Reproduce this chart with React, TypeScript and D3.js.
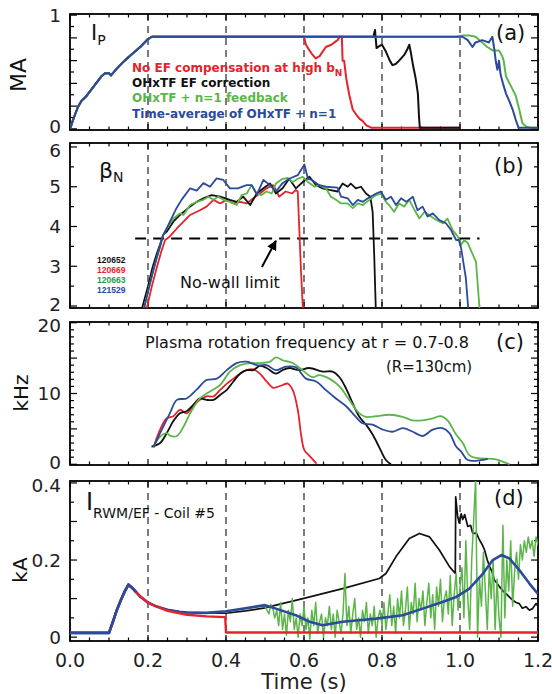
import React from "react";
import * as d3 from "d3";

type P = [number, number];

const X_TICK_VALUES = [0, 0.2, 0.4, 0.6, 0.8, 1.0, 1.2];
const DASH_TIMES = [0.2, 0.4, 0.6, 0.8, 1.0];

// ---------- Panel (a) Ip ----------
const IP_RAMP: P[] = [[0,0],[0.01,0.1],[0.02,0.19],[0.03,0.25],[0.04,0.28],[0.06,0.37],[0.08,0.46],[0.09,0.49],[0.1,0.49],[0.105,0.47],[0.12,0.53],[0.14,0.6],[0.16,0.66],[0.18,0.72],[0.2,0.79],[0.21,0.81]];
const IP_RED: P[] = [[0.6,0.81],[0.605,0.74],[0.614,0.69],[0.62,0.66],[0.63,0.62],[0.64,0.64],[0.656,0.72],[0.67,0.74],[0.686,0.78],[0.692,0.81],[0.697,0.81],[0.699,0.6],[0.703,0.6],[0.708,0.45],[0.716,0.3],[0.725,0.17],[0.735,0.12],[0.742,0.09],[0.75,0.07],[0.76,0.03],[0.772,0.01],[1.0,0.01]];
const IP_BLACK: P[] = [[0.778,0.81],[0.782,0.87],[0.786,0.71],[0.79,0.72],[0.8,0.74],[0.81,0.68],[0.82,0.6],[0.827,0.56],[0.835,0.57],[0.844,0.6],[0.857,0.65],[0.865,0.7],[0.87,0.74],[0.874,0.67],[0.88,0.55],[0.886,0.45],[0.892,0.31],[0.895,0.1],[0.897,0.01],[1.0,0.01]];
const IP_GREEN: P[] = [[0.99,0.81],[1.005,0.82],[1.024,0.82],[1.04,0.81],[1.057,0.76],[1.07,0.72],[1.084,0.69],[1.1,0.69],[1.108,0.64],[1.112,0.6],[1.118,0.46],[1.13,0.38],[1.143,0.29],[1.152,0.17],[1.16,0.05],[1.17,0.02],[1.18,0.01],[1.2,0.01]];
const IP_BLUE: P[] = [[1.0,0.81],[1.006,0.81],[1.02,0.78],[1.032,0.72],[1.04,0.76],[1.057,0.78],[1.074,0.76],[1.083,0.81],[1.088,0.7],[1.092,0.59],[1.096,0.52],[1.1,0.6],[1.104,0.48],[1.11,0.4],[1.118,0.31],[1.127,0.24],[1.135,0.17],[1.143,0.08],[1.15,0.01],[1.2,0.01]];

// ---------- Panel (b) beta_N ----------
const B_BLUE: P[] = [[0.19,1.95],[0.2,2.36],[0.211,2.8],[0.222,3.2],[0.231,3.5],[0.239,3.79],[0.248,3.95],[0.26,4.2],[0.273,4.46],[0.286,4.67],[0.308,4.96],[0.325,4.9],[0.342,5.09],[0.359,5.0],[0.376,5.21],[0.393,5.17],[0.41,4.96],[0.43,4.96],[0.453,5.04],[0.466,5.04],[0.479,4.8],[0.496,5.17],[0.513,5.04],[0.528,4.88],[0.545,5.09],[0.562,5.2],[0.584,5.29],[0.601,5.56],[0.61,5.2],[0.62,5.17],[0.639,5.04],[0.656,5.0],[0.686,4.98],[0.695,4.75],[0.712,4.71],[0.725,4.54],[0.738,4.67],[0.751,4.62],[0.764,4.71],[0.785,4.83],[0.797,4.88],[0.81,4.67],[0.823,4.75],[0.836,4.54],[0.849,4.71],[0.862,4.62],[0.879,4.75],[0.891,4.41],[0.904,4.5],[0.917,4.25],[0.93,4.33],[0.947,4.16],[0.964,4.08],[0.977,3.91],[0.99,3.66],[0.997,3.66],[1.003,3.45],[1.015,2.7],[1.021,1.95],[1.025,1.5]];
const B_GREEN: P[] = [[0.19,1.95],[0.2,2.36],[0.211,2.8],[0.222,3.2],[0.231,3.5],[0.239,3.79],[0.248,3.95],[0.265,4.2],[0.282,4.33],[0.291,4.29],[0.308,4.54],[0.325,4.62],[0.342,4.67],[0.355,4.75],[0.368,4.67],[0.38,4.75],[0.393,4.67],[0.41,4.62],[0.427,4.54],[0.44,4.79],[0.453,4.83],[0.466,5.04],[0.479,4.83],[0.491,4.79],[0.504,4.88],[0.517,4.83],[0.528,5.08],[0.545,5.2],[0.558,5.22],[0.571,5.12],[0.584,5.2],[0.597,5.25],[0.61,5.12],[0.627,5.0],[0.639,5.04],[0.656,4.96],[0.669,4.75],[0.682,4.67],[0.695,4.58],[0.712,4.58],[0.725,4.46],[0.738,4.58],[0.751,4.54],[0.768,4.67],[0.785,4.79],[0.797,4.83],[0.81,4.62],[0.818,4.54],[0.831,4.37],[0.844,4.58],[0.857,4.5],[0.87,4.67],[0.883,4.42],[0.896,4.2],[0.909,4.37],[0.926,4.25],[0.938,4.17],[0.956,4.08],[0.968,4.2],[0.981,3.91],[0.994,3.75],[1.003,3.54],[1.011,3.66],[1.02,3.58],[1.041,3.11],[1.05,1.95],[1.052,1.5]];
const B_BLACK: P[] = [[0.185,1.95],[0.2,2.5],[0.211,2.95],[0.222,3.3],[0.231,3.55],[0.239,3.79],[0.248,3.87],[0.265,4.12],[0.282,4.29],[0.308,4.5],[0.325,4.62],[0.342,4.71],[0.363,4.79],[0.385,4.75],[0.41,4.67],[0.427,4.62],[0.444,4.75],[0.462,4.54],[0.479,4.83],[0.496,4.96],[0.513,5.08],[0.528,4.83],[0.545,4.96],[0.562,5.2],[0.579,4.96],[0.597,5.12],[0.614,5.25],[0.631,5.04],[0.648,4.96],[0.665,4.92],[0.686,4.88],[0.699,5.08],[0.712,5.0],[0.72,5.08],[0.733,4.96],[0.746,5.0],[0.759,4.83],[0.77,4.75],[0.776,4.37],[0.78,3.29],[0.784,1.95],[0.786,1.5]];
const B_RED: P[] = [[0.197,1.95],[0.21,2.5],[0.222,2.95],[0.235,3.4],[0.244,3.66],[0.256,3.75],[0.274,3.95],[0.291,4.12],[0.308,4.29],[0.333,4.41],[0.35,4.5],[0.368,4.67],[0.385,4.58],[0.402,4.67],[0.419,4.58],[0.436,4.62],[0.453,4.58],[0.47,4.71],[0.487,4.83],[0.504,4.96],[0.521,5.04],[0.528,4.92],[0.536,4.75],[0.553,4.88],[0.57,4.83],[0.579,4.92],[0.584,4.88],[0.592,2.95],[0.597,1.95],[0.6,1.5]];
const NO_WALL_LIMIT = 3.7;
const NO_WALL_SPAN = [0.167, 1.05];
const SHOT_LABELS = ["120652", "120669", "120663", "121529"];

// ---------- Panel (c) rotation ----------
const C_BLACK: P[] = [[0.209,2.5],[0.231,3.0],[0.248,4.4],[0.265,6.1],[0.282,7.2],[0.299,7.5],[0.316,8.4],[0.333,9.3],[0.35,9.1],[0.368,9.1],[0.385,9.8],[0.402,10.5],[0.419,11.7],[0.436,12.8],[0.453,13.3],[0.47,13.3],[0.487,13.9],[0.504,13.6],[0.528,12.8],[0.545,13.3],[0.562,13.6],[0.588,13.3],[0.613,13.6],[0.648,13.1],[0.673,13.1],[0.691,12.3],[0.708,10.7],[0.725,8.6],[0.742,6.7],[0.759,5.6],[0.776,4.2],[0.793,2.4],[0.81,0.6],[0.823,0]];
const C_RED: P[] = [[0.214,2.4],[0.231,4.9],[0.248,6.5],[0.265,6.8],[0.282,7.7],[0.299,7.2],[0.316,8.2],[0.333,9.1],[0.35,9.6],[0.368,9.6],[0.385,10.5],[0.402,11.4],[0.419,12.1],[0.436,12.8],[0.453,13.3],[0.47,13.4],[0.487,12.8],[0.504,11.7],[0.521,10.8],[0.53,10.9],[0.545,11.2],[0.558,11.4],[0.571,10.5],[0.584,7.7],[0.593,4.0],[0.601,2.0],[0.614,1.2],[0.632,0.1]];
const C_GREEN: P[] = [[0.214,2.5],[0.231,3.9],[0.248,4.4],[0.258,4.0],[0.274,4.0],[0.291,5.3],[0.308,7.2],[0.333,9.3],[0.359,10.3],[0.385,11.2],[0.41,13.1],[0.436,14.0],[0.462,14.3],[0.487,14.3],[0.513,14.5],[0.528,15.1],[0.545,14.7],[0.571,14.3],[0.596,13.3],[0.622,12.3],[0.639,12.6],[0.665,12.1],[0.691,11.0],[0.716,9.1],[0.742,7.2],[0.759,6.7],[0.785,6.8],[0.818,7.0],[0.853,6.7],[0.879,6.2],[0.904,6.2],[0.93,6.5],[0.951,6.8],[0.968,6.2],[0.99,4.2],[1.007,3.0],[1.024,1.3],[1.041,0.9],[1.092,0.7],[1.118,0.2],[1.127,0]];
const C_BLUE: P[] = [[0.214,2.4],[0.231,4.4],[0.256,7.2],[0.274,9.1],[0.299,9.3],[0.324,10.5],[0.35,11.9],[0.376,12.1],[0.402,13.3],[0.427,14.3],[0.453,14.5],[0.479,14.0],[0.504,14.0],[0.528,13.3],[0.554,13.8],[0.579,13.7],[0.605,12.1],[0.631,11.7],[0.656,10.5],[0.682,9.3],[0.708,8.2],[0.733,6.7],[0.75,5.8],[0.776,5.6],[0.802,4.9],[0.827,4.6],[0.853,5.1],[0.879,4.6],[0.904,4.0],[0.93,4.9],[0.955,5.1],[0.973,4.4],[0.99,2.5],[1.003,1.8],[1.02,0.6],[1.071,0.78]];

// ---------- Panel (d) coil current ----------
const D_BASE: P[] = [[0,0.011],[0.1,0.011],[0.11,0.04],[0.12,0.07],[0.13,0.095],[0.14,0.118],[0.15,0.136],[0.16,0.127],[0.17,0.116],[0.18,0.105],[0.2,0.09],[0.22,0.08],[0.25,0.071],[0.28,0.066],[0.3,0.064],[0.35,0.063]];
const D_RED: P[] = [[0,0.011],[0.1,0.011],[0.11,0.04],[0.12,0.07],[0.13,0.095],[0.14,0.118],[0.15,0.137],[0.16,0.128],[0.17,0.117],[0.18,0.106],[0.2,0.089],[0.25,0.068],[0.3,0.058],[0.35,0.054],[0.398,0.052],[0.4,0.012],[1.2,0.012]];
const D_BLUE_TAIL: P[] = [[0.4,0.067],[0.45,0.075],[0.5,0.083],[0.528,0.074],[0.579,0.057],[0.614,0.04],[0.648,0.031],[0.699,0.04],[0.785,0.048],[0.853,0.057],[0.904,0.074],[0.955,0.091],[0.99,0.104],[1.024,0.126],[1.059,0.165],[1.084,0.2],[1.106,0.213],[1.127,0.204],[1.152,0.174],[1.178,0.139],[1.2,0.112]];
const D_BLACK_TAIL: P[] = [[0.4,0.062],[0.45,0.068],[0.5,0.076],[0.528,0.083],[0.597,0.1],[0.699,0.126],[0.793,0.152],[0.81,0.165],[0.836,0.209],[0.87,0.256],[0.896,0.269],[0.922,0.26],[0.947,0.226],[0.973,0.183],[0.988,0.165],[0.989,0.364],[0.994,0.313],[0.998,0.296],[1.003,0.32],[1.007,0.305],[1.012,0.318],[1.02,0.287],[1.027,0.29],[1.033,0.269],[1.042,0.27],[1.05,0.252],[1.057,0.24],[1.063,0.226],[1.07,0.2],[1.076,0.183],[1.082,0.17],[1.088,0.148],[1.095,0.14],[1.101,0.131],[1.11,0.12],[1.118,0.113],[1.127,0.104],[1.135,0.096],[1.144,0.09],[1.152,0.087],[1.16,0.075],[1.169,0.079],[1.178,0.07],[1.186,0.074],[1.195,0.087],[1.2,0.08]];
const D_GREEN_MID: P[] = [[0.4,0.066],[0.45,0.074],[0.49,0.08],[0.495,0.08]];
const D_GREEN_NOISE_START = 0.5;
const D_GREEN_NOISE_STEP = 0.005;
const D_GREEN_NOISE: number[] = [
  0.08,0.07,0.06,0.085,0.075,0.05,0.07,
  0.03,0.09,0.02,0.06,0.005,0.07,0.04,0.1,0.02,0.05,0.0,0.06,0.03,0.08,
  0.02,0.05,-0.005,0.07,0.03,0.09,0.01,0.04,0.06,0.0,0.05,0.03,0.08,0.02,0.06,0.0,0.07,0.04,0.01,0.06,
  0.165,0.03,0.08,0.01,0.06,0.1,0.02,0.05,0.0,0.07,0.04,0.09,0.01,0.06,0.03,0.08,0.0,0.05,0.07,0.03,
  0.09,0.02,0.06,0.11,0.03,0.08,0.01,0.1,0.05,0.12,0.03,0.07,0.13,0.02,0.09,0.06,0.14,0.04,0.1,0.07,
  0.12,0.03,0.09,0.14,0.05,0.11,0.02,0.13,0.08,0.15,0.04,0.1,0.12,0.06,0.16,0.03,0.11,0.165,0.07,0.13,
  0.18,0.05,0.25,0.1,0.02,0.2,0.3,0.41,0.0,0.15,0.08,0.22,0.12,0.02,0.18,0.1,0.2,0.02,0.15,0.05,
  0.0,0.29,0.05,0.2,0.12,0.25,0.08,0.17,0.22,0.15,0.24,0.2,0.25,0.22,0.26,0.23,0.25,0.21,0.26,0.24,0.25
];

const RED = "#e5232b";
const BLACK = "#111111";
const GREEN = "#5bb64a";
const BLUE = "#2b4a9b";
const FONT = "'DejaVu Sans', sans-serif";

const X0 = 70, X1 = 538;

type Panel = { top: number; bottom: number; y: d3.ScaleLinear<number, number> };

export default function App() {
  const x = d3.scaleLinear().domain([0, 1.2]).range([X0, X1]);

  const panels: Record<string, Panel> = {
    a: { top: 14, bottom: 130, y: d3.scaleLinear().domain([-0.01, 1.01]).range([130, 14]) },
    b: { top: 143, bottom: 308, y: d3.scaleLinear().domain([1.95, 6.1]).range([308, 143]) },
    c: { top: 322, bottom: 465, y: d3.scaleLinear().domain([-0.1, 20.1]).range([465, 322]) },
    d: { top: 481, bottom: 641, y: d3.scaleLinear().domain([-0.01, 0.405]).range([641, 481]) },
  };

  const lin = (y: d3.ScaleLinear<number, number>, pts: P[]) =>
    d3.line<P>().x(d => x(d[0])).y(d => y(d[1]))(pts) || "";
  const smooth = (y: d3.ScaleLinear<number, number>, pts: P[]) =>
    d3.line<P>().x(d => x(d[0])).y(d => y(d[1])).curve(d3.curveCatmullRom.alpha(0.5))(pts) || "";

  const xMinor = d3.range(0, 1.2001, 0.05);

  const frame = (key: string, p: Panel, yStep: number, majorEvery: number, labels: number[],
    fmt: (v: number) => string, dashes: boolean, dyTop: number, dyBottom: number) => {
    const [d0, d1] = p.y.domain();
    const start = Math.ceil((d0 - 1e-9) / yStep) * yStep;
    const yTicks = d3.range(start, d1 + 1e-9, yStep);
    const lo = Math.min(...labels), hi = Math.max(...labels);
    return (
      <g key={key}>
        {dashes && DASH_TIMES.map(t => (
          <line key={"dash" + t} x1={x(t)} x2={x(t)} y1={p.top} y2={p.bottom} stroke="#111" strokeWidth={1.1} strokeDasharray="7,5" />
        ))}
        {xMinor.map((t, i) => {
          const major = i % 4 === 0;
          const len = major ? 6 : 3.5;
          return (
            <g key={"xt" + i}>
              <line x1={x(t)} x2={x(t)} y1={p.bottom} y2={p.bottom - len} stroke="#000" strokeWidth={1.2} />
              <line x1={x(t)} x2={x(t)} y1={p.top} y2={p.top + len} stroke="#000" strokeWidth={1.2} />
            </g>
          );
        })}
        {yTicks.map((v, i) => {
          const major = Math.abs(v / (yStep * majorEvery) - Math.round(v / (yStep * majorEvery))) < 1e-6;
          const len = major ? 7 : 4;
          return (
            <g key={"yt" + i}>
              <line x1={X0} x2={X0 + len} y1={p.y(v)} y2={p.y(v)} stroke="#000" strokeWidth={1.2} />
              <line x1={X1} x2={X1 - len} y1={p.y(v)} y2={p.y(v)} stroke="#000" strokeWidth={1.2} />
            </g>
          );
        })}
        {labels.map(v => (
          <text key={"yl" + v} x={61} y={p.y(v) + (v === hi ? dyTop : v === lo ? dyBottom : 6.5)}
            textAnchor="end" fontSize={18.5} fontFamily={FONT} fill="#222">{fmt(v)}</text>
        ))}
        <rect x={X0} y={p.top} width={X1 - X0} height={p.bottom - p.top} fill="none" stroke="#000" strokeWidth={1.8} />
      </g>
    );
  };

  const clip = (id: string, p: Panel) => (
    <clipPath id={id}><rect x={X0} y={p.top} width={X1 - X0} height={p.bottom - p.top} /></clipPath>
  );

  const greenNoise: P[] = D_GREEN_NOISE.map((v, i) => [D_GREEN_NOISE_START + i * D_GREEN_NOISE_STEP, v] as P);
  const A = panels.a, B = panels.b, C = panels.c, D = panels.d;

  const arrowTip: P = [0.528, 3.64];
  const arrowTail: P = [0.492, 2.98];

  return (
    <svg width={552} height={694} style={{ position: "absolute", left: 0, top: 0, background: "#fff" }}>
      <defs>
        {clip("ca", A)}{clip("cb", B)}{clip("cc", C)}{clip("cd", D)}
        <marker id="arr" viewBox="0 0 10 10" refX="9" refY="5" markerWidth="5" markerHeight="5" orient="auto">
          <path d="M0,0 L10,5 L0,10 z" fill="#000" />
        </marker>
      </defs>
      <rect width={552} height={694} fill="#fff" />

      {/* Panel a */}
      {frame("fa", A, 0.1, 2, [0, 1], d3.format("d"), true, 6.5, 4.5)}
      <g clipPath="url(#ca)" fill="none" strokeWidth={2} strokeLinejoin="round">
        <path d={lin(A.y, [...IP_RAMP, ...IP_RED])} stroke={RED} />
        <path d={lin(A.y, [...IP_RAMP, ...IP_BLACK])} stroke={BLACK} />
        <path d={lin(A.y, [...IP_RAMP, ...IP_GREEN])} stroke={GREEN} />
        <path d={lin(A.y, [...IP_RAMP, ...IP_BLUE])} stroke={BLUE} />
      </g>
      <text x={91} y={40} fontSize={21} fontFamily={FONT} fill="#111">I<tspan dy={5} fontSize={14}>P</tspan></text>
      <text transform="translate(26,75) rotate(-90)" textAnchor="middle" fontSize={22} fontFamily={FONT} fill="#111">MA</text>
      <text x={496} y={40} fontSize={21} fontFamily={FONT} fill="#111">(a)</text>
      <g fontFamily={FONT} fontWeight="bold" fontSize={12}>
        <text x={132} y={71.5} fill={RED}>No EF compensation at high b<tspan dy={4} fontSize={9}>N</tspan></text>
        <text x={132} y={86.5} fill={BLACK}>OHxTF EF correction</text>
        <text x={132} y={102} fill={GREEN}>OHxTF + n=1 feedback</text>
        <text x={132} y={118} fill={BLUE}>Time-average of OHxTF + n=1</text>
      </g>

      {/* Panel b */}
      {frame("fb", B, 0.5, 2, [2, 3, 4, 5, 6], d3.format("d"), true, 10, 4.5)}
      <line x1={x(NO_WALL_SPAN[0])} x2={x(NO_WALL_SPAN[1])} y1={B.y(NO_WALL_LIMIT)} y2={B.y(NO_WALL_LIMIT)} stroke="#000" strokeWidth={2} strokeDasharray="11,7" />
      <g clipPath="url(#cb)" fill="none" strokeWidth={1.8} strokeLinejoin="round">
        <path d={lin(B.y, B_RED)} stroke={RED} />
        <path d={lin(B.y, B_BLACK)} stroke={BLACK} />
        <path d={lin(B.y, B_GREEN)} stroke={GREEN} />
        <path d={lin(B.y, B_BLUE)} stroke={BLUE} />
      </g>
      <text x={99} y={178} fontSize={22} fontFamily={FONT} fill="#111">β<tspan dy={4} fontSize={14}>N</tspan></text>
      <text x={494} y={173} fontSize={21} fontFamily={FONT} fill="#111">(b)</text>
      <g fontFamily="'Liberation Sans', Arial, sans-serif" fontWeight="bold" fontSize={8.5}>
        {SHOT_LABELS.map((s, i) => (
          <text key={s} x={97} y={263 + i * 10} fill={[BLACK, RED, "#1e9a4a", BLUE][i]}>{s}</text>
        ))}
      </g>
      <text x={180} y={288} fontSize={16} fontFamily={FONT} fill="#111">No-wall limit</text>
      <line x1={x(arrowTail[0])} y1={B.y(arrowTail[1])} x2={x(arrowTip[0])} y2={B.y(arrowTip[1])} stroke="#000" strokeWidth={2} markerEnd="url(#arr)" />

      {/* Panel c */}
      {frame("fc", C, 1, 5, [0, 10, 20], d3.format("d"), false, 9.5, 4.5)}
      <g clipPath="url(#cc)" fill="none" strokeWidth={1.8} strokeLinejoin="round">
        <path d={smooth(C.y, C_RED)} stroke={RED} />
        <path d={smooth(C.y, C_BLACK)} stroke={BLACK} />
        <path d={smooth(C.y, C_GREEN)} stroke={GREEN} />
        <path d={smooth(C.y, C_BLUE)} stroke={BLUE} />
      </g>
      <text transform="translate(28,393) rotate(-90)" textAnchor="middle" fontSize={20} fontFamily={FONT} fill="#111">kHz</text>
      <text x={145} y={347.5} fontSize={16} fontFamily={FONT} fill="#111">Plasma rotation frequency at r = 0.7-0.8</text>
      <text x={386} y={372} fontSize={15} fontFamily={FONT} fill="#111">(R=130cm)</text>
      <text x={496} y={349} fontSize={21} fontFamily={FONT} fill="#111">(c)</text>

      {/* Panel d */}
      {frame("fd", D, 0.05, 2, [0, 0.2, 0.4], (v: number) => (v === 0 ? "0" : d3.format(".1f")(v)), true, 9, 6.5)}
      <g clipPath="url(#cd)" fill="none" strokeLinejoin="round">
        <path d={lin(D.y, [...D_BASE, ...D_BLACK_TAIL])} stroke={BLACK} strokeWidth={1.7} />
        <path d={lin(D.y, [...D_BASE, ...D_GREEN_MID, ...greenNoise])} stroke={GREEN} strokeWidth={1.5} />
        <path d={lin(D.y, [...D_BASE, ...D_BLUE_TAIL])} stroke={BLUE} strokeWidth={2.6} />
        <path d={lin(D.y, D_RED)} stroke={RED} strokeWidth={2.4} />
        <path d={lin(D.y, D_BASE.slice(0, 9))} stroke={BLUE} strokeWidth={2.6} />
      </g>
      <text x={86} y={510} fontSize={24} fontFamily={FONT} fill="#111">I<tspan dy={8} fontSize={14}>RWM/EF - Coil #5</tspan></text>
      <text transform="translate(27,570) rotate(-90)" textAnchor="middle" fontSize={20} fontFamily={FONT} fill="#111">kA</text>
      <text x={494} y={505} fontSize={21} fontFamily={FONT} fill="#111">(d)</text>

      {X_TICK_VALUES.map(v => (
        <text key={"xl" + v} x={x(v)} y={667} textAnchor="middle" fontSize={19} fontFamily={FONT} fill="#222">{d3.format(".1f")(v)}</text>
      ))}
      <text x={x(0.6)} y={689} textAnchor="middle" fontSize={21} fontFamily={FONT} fill="#222">Time (s)</text>
    </svg>
  );
}
